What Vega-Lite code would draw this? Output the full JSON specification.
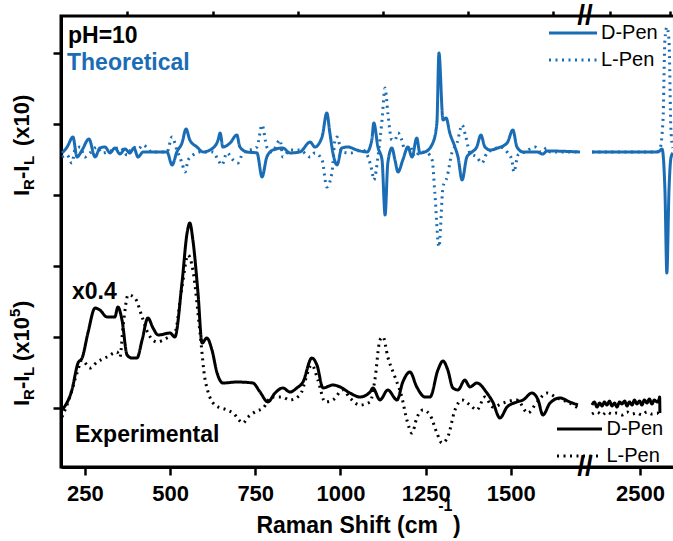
{
  "$schema": "https://vega.github.io/schema/vega-lite/v6.json",
  "width": 614,
  "height": 451,
  "autosize": {"type": "none"},
  "padding": {"left": 61, "top": 16, "right": 0, "bottom": 74},
  "background": "white",
  "config": {
    "view": {"stroke": "black", "strokeWidth": 3},
    "font": "Liberation Sans",
    "axis": {"grid": false, "domainColor": "black", "tickColor": "black", "labelColor": "black", "domainWidth": 3, "tickWidth": 2.5}
  },
  "datasets": {
    "theory": [
      {"x":183,"y":3.592,"e":"D-Pen","s":1},{"x":198,"y":3.676,"e":"D-Pen","s":1},{"x":215,"y":3.817,"e":"D-Pen","s":1},{"x":227,"y":3.535,"e":"D-Pen","s":1},{"x":242,"y":3.634,"e":"D-Pen","s":1},{"x":262,"y":3.789,"e":"D-Pen","s":1},{"x":280,"y":3.535,"e":"D-Pen","s":1},{"x":294,"y":3.662,"e":"D-Pen","s":1},{"x":309,"y":3.676,"e":"D-Pen","s":1},{"x":324,"y":3.592,"e":"D-Pen","s":1},{"x":338,"y":3.662,"e":"D-Pen","s":1},{"x":353,"y":3.577,"e":"D-Pen","s":1},{"x":368,"y":3.648,"e":"D-Pen","s":1},{"x":382,"y":3.592,"e":"D-Pen","s":1},{"x":394,"y":3.662,"e":"D-Pen","s":1},{"x":406,"y":3.535,"e":"D-Pen","s":1},{"x":421,"y":3.606,"e":"D-Pen","s":1},{"x":491,"y":3.606,"e":"D-Pen","s":1},{"x":506,"y":3.423,"e":"D-Pen","s":1},{"x":520,"y":3.606,"e":"D-Pen","s":1},{"x":535,"y":3.732,"e":"D-Pen","s":1},{"x":547,"y":3.93,"e":"D-Pen","s":1},{"x":558,"y":3.775,"e":"D-Pen","s":1},{"x":579,"y":3.676,"e":"D-Pen","s":1},{"x":597,"y":3.606,"e":"D-Pen","s":1},{"x":626,"y":3.662,"e":"D-Pen","s":1},{"x":641,"y":3.775,"e":"D-Pen","s":1},{"x":647,"y":3.873,"e":"D-Pen","s":1},{"x":655,"y":3.676,"e":"D-Pen","s":1},{"x":676,"y":3.732,"e":"D-Pen","s":1},{"x":696,"y":3.845,"e":"D-Pen","s":1},{"x":705,"y":3.676,"e":"D-Pen","s":1},{"x":726,"y":3.606,"e":"D-Pen","s":1},{"x":755,"y":3.592,"e":"D-Pen","s":1},{"x":770,"y":3.254,"e":"D-Pen","s":1},{"x":784,"y":3.535,"e":"D-Pen","s":1},{"x":802,"y":3.634,"e":"D-Pen","s":1},{"x":831,"y":3.662,"e":"D-Pen","s":1},{"x":852,"y":3.592,"e":"D-Pen","s":1},{"x":881,"y":3.606,"e":"D-Pen","s":1},{"x":911,"y":3.746,"e":"D-Pen","s":1},{"x":925,"y":3.676,"e":"D-Pen","s":1},{"x":946,"y":3.817,"e":"D-Pen","s":1},{"x":960,"y":4.155,"e":"D-Pen","s":1},{"x":969,"y":3.873,"e":"D-Pen","s":1},{"x":978,"y":3.592,"e":"D-Pen","s":1},{"x":990,"y":3.423,"e":"D-Pen","s":1},{"x":1004,"y":3.662,"e":"D-Pen","s":1},{"x":1022,"y":3.676,"e":"D-Pen","s":1},{"x":1048,"y":3.634,"e":"D-Pen","s":1},{"x":1078,"y":3.606,"e":"D-Pen","s":1},{"x":1092,"y":3.775,"e":"D-Pen","s":1},{"x":1098,"y":4.014,"e":"D-Pen","s":1},{"x":1110,"y":3.676,"e":"D-Pen","s":1},{"x":1122,"y":3.493,"e":"D-Pen","s":1},{"x":1131,"y":2.718,"e":"D-Pen","s":1},{"x":1139,"y":3.451,"e":"D-Pen","s":1},{"x":1151,"y":3.662,"e":"D-Pen","s":1},{"x":1160,"y":3.493,"e":"D-Pen","s":1},{"x":1169,"y":3.324,"e":"D-Pen","s":1},{"x":1183,"y":3.493,"e":"D-Pen","s":1},{"x":1198,"y":3.676,"e":"D-Pen","s":1},{"x":1210,"y":3.535,"e":"D-Pen","s":1},{"x":1224,"y":3.803,"e":"D-Pen","s":1},{"x":1233,"y":3.592,"e":"D-Pen","s":1},{"x":1248,"y":3.606,"e":"D-Pen","s":1},{"x":1271,"y":3.732,"e":"D-Pen","s":1},{"x":1283,"y":4.014,"e":"D-Pen","s":1},{"x":1289,"y":5.0,"e":"D-Pen","s":1},{"x":1301,"y":4.056,"e":"D-Pen","s":1},{"x":1310,"y":4.085,"e":"D-Pen","s":1},{"x":1321,"y":3.873,"e":"D-Pen","s":1},{"x":1336,"y":3.676,"e":"D-Pen","s":1},{"x":1345,"y":3.535,"e":"D-Pen","s":1},{"x":1357,"y":3.211,"e":"D-Pen","s":1},{"x":1371,"y":3.535,"e":"D-Pen","s":1},{"x":1386,"y":3.606,"e":"D-Pen","s":1},{"x":1400,"y":3.676,"e":"D-Pen","s":1},{"x":1412,"y":3.845,"e":"D-Pen","s":1},{"x":1424,"y":3.676,"e":"D-Pen","s":1},{"x":1439,"y":3.634,"e":"D-Pen","s":1},{"x":1462,"y":3.662,"e":"D-Pen","s":1},{"x":1489,"y":3.732,"e":"D-Pen","s":1},{"x":1506,"y":3.915,"e":"D-Pen","s":1},{"x":1518,"y":3.676,"e":"D-Pen","s":1},{"x":1536,"y":3.606,"e":"D-Pen","s":1},{"x":1577,"y":3.606,"e":"D-Pen","s":1},{"x":1594,"y":3.577,"e":"D-Pen","s":1},{"x":1606,"y":3.62,"e":"D-Pen","s":1},{"x":1703,"y":3.606,"e":"D-Pen","s":1},
      {"x":2300,"y":3.606,"e":"D-Pen","s":2},{"x":2575,"y":3.606,"e":"D-Pen","s":2},{"x":2592,"y":3.648,"e":"D-Pen","s":2},{"x":2604,"y":3.07,"e":"D-Pen","s":2},{"x":2612,"y":1.901,"e":"D-Pen","s":2},{"x":2621,"y":3.07,"e":"D-Pen","s":2},{"x":2629,"y":3.521,"e":"D-Pen","s":2},{"x":2637,"y":3.592,"e":"D-Pen","s":2},
      {"x":183,"y":3.535,"e":"L-Pen","s":1},{"x":198,"y":3.563,"e":"L-Pen","s":1},{"x":212,"y":3.451,"e":"L-Pen","s":1},{"x":221,"y":3.634,"e":"L-Pen","s":1},{"x":236,"y":3.676,"e":"L-Pen","s":1},{"x":250,"y":3.535,"e":"L-Pen","s":1},{"x":265,"y":3.592,"e":"L-Pen","s":1},{"x":286,"y":3.676,"e":"L-Pen","s":1},{"x":300,"y":3.592,"e":"L-Pen","s":1},{"x":333,"y":3.634,"e":"L-Pen","s":1},{"x":353,"y":3.676,"e":"L-Pen","s":1},{"x":374,"y":3.563,"e":"L-Pen","s":1},{"x":391,"y":3.676,"e":"L-Pen","s":1},{"x":406,"y":3.648,"e":"L-Pen","s":1},{"x":421,"y":3.704,"e":"L-Pen","s":1},{"x":447,"y":3.606,"e":"L-Pen","s":1},{"x":491,"y":3.606,"e":"L-Pen","s":1},{"x":506,"y":3.817,"e":"L-Pen","s":1},{"x":520,"y":3.634,"e":"L-Pen","s":1},{"x":535,"y":3.451,"e":"L-Pen","s":1},{"x":544,"y":3.324,"e":"L-Pen","s":1},{"x":553,"y":3.493,"e":"L-Pen","s":1},{"x":567,"y":3.563,"e":"L-Pen","s":1},{"x":588,"y":3.606,"e":"L-Pen","s":1},{"x":626,"y":3.606,"e":"L-Pen","s":1},{"x":641,"y":3.493,"e":"L-Pen","s":1},{"x":652,"y":3.423,"e":"L-Pen","s":1},{"x":667,"y":3.592,"e":"L-Pen","s":1},{"x":685,"y":3.493,"e":"L-Pen","s":1},{"x":699,"y":3.451,"e":"L-Pen","s":1},{"x":714,"y":3.592,"e":"L-Pen","s":1},{"x":755,"y":3.676,"e":"L-Pen","s":1},{"x":770,"y":3.986,"e":"L-Pen","s":1},{"x":784,"y":3.676,"e":"L-Pen","s":1},{"x":799,"y":3.606,"e":"L-Pen","s":1},{"x":823,"y":3.775,"e":"L-Pen","s":1},{"x":831,"y":3.535,"e":"L-Pen","s":1},{"x":852,"y":3.634,"e":"L-Pen","s":1},{"x":881,"y":3.634,"e":"L-Pen","s":1},{"x":911,"y":3.535,"e":"L-Pen","s":1},{"x":925,"y":3.592,"e":"L-Pen","s":1},{"x":946,"y":3.493,"e":"L-Pen","s":1},{"x":960,"y":3.113,"e":"L-Pen","s":1},{"x":975,"y":3.31,"e":"L-Pen","s":1},{"x":984,"y":3.775,"e":"L-Pen","s":1},{"x":990,"y":3.817,"e":"L-Pen","s":1},{"x":1004,"y":3.606,"e":"L-Pen","s":1},{"x":1028,"y":3.592,"e":"L-Pen","s":1},{"x":1066,"y":3.634,"e":"L-Pen","s":1},{"x":1081,"y":3.535,"e":"L-Pen","s":1},{"x":1092,"y":3.352,"e":"L-Pen","s":1},{"x":1098,"y":3.211,"e":"L-Pen","s":1},{"x":1110,"y":3.535,"e":"L-Pen","s":1},{"x":1122,"y":4.056,"e":"L-Pen","s":1},{"x":1131,"y":4.507,"e":"L-Pen","s":1},{"x":1139,"y":4.155,"e":"L-Pen","s":1},{"x":1151,"y":3.775,"e":"L-Pen","s":1},{"x":1160,"y":3.775,"e":"L-Pen","s":1},{"x":1169,"y":3.873,"e":"L-Pen","s":1},{"x":1180,"y":3.775,"e":"L-Pen","s":1},{"x":1189,"y":3.634,"e":"L-Pen","s":1},{"x":1204,"y":3.676,"e":"L-Pen","s":1},{"x":1219,"y":3.535,"e":"L-Pen","s":1},{"x":1233,"y":3.606,"e":"L-Pen","s":1},{"x":1254,"y":3.592,"e":"L-Pen","s":1},{"x":1269,"y":3.493,"e":"L-Pen","s":1},{"x":1277,"y":3.028,"e":"L-Pen","s":1},{"x":1289,"y":2.268,"e":"L-Pen","s":1},{"x":1301,"y":3.113,"e":"L-Pen","s":1},{"x":1313,"y":3.254,"e":"L-Pen","s":1},{"x":1327,"y":3.592,"e":"L-Pen","s":1},{"x":1342,"y":3.732,"e":"L-Pen","s":1},{"x":1357,"y":3.986,"e":"L-Pen","s":1},{"x":1368,"y":3.817,"e":"L-Pen","s":1},{"x":1380,"y":3.592,"e":"L-Pen","s":1},{"x":1400,"y":3.535,"e":"L-Pen","s":1},{"x":1415,"y":3.451,"e":"L-Pen","s":1},{"x":1430,"y":3.592,"e":"L-Pen","s":1},{"x":1447,"y":3.634,"e":"L-Pen","s":1},{"x":1468,"y":3.676,"e":"L-Pen","s":1},{"x":1489,"y":3.606,"e":"L-Pen","s":1},{"x":1503,"y":3.493,"e":"L-Pen","s":1},{"x":1509,"y":3.324,"e":"L-Pen","s":1},{"x":1521,"y":3.563,"e":"L-Pen","s":1},{"x":1541,"y":3.606,"e":"L-Pen","s":1},{"x":1571,"y":3.676,"e":"L-Pen","s":1},{"x":1588,"y":3.606,"e":"L-Pen","s":1},{"x":1606,"y":3.662,"e":"L-Pen","s":1},{"x":1615,"y":3.606,"e":"L-Pen","s":1},{"x":1703,"y":3.606,"e":"L-Pen","s":1},
      {"x":2300,"y":3.606,"e":"L-Pen","s":2},{"x":2567,"y":3.606,"e":"L-Pen","s":2},{"x":2583,"y":3.648,"e":"L-Pen","s":2},{"x":2596,"y":4.056,"e":"L-Pen","s":2},{"x":2604,"y":5.183,"e":"L-Pen","s":2},{"x":2612,"y":5.366,"e":"L-Pen","s":2},{"x":2621,"y":5.183,"e":"L-Pen","s":2},{"x":2629,"y":3.915,"e":"L-Pen","s":2},{"x":2637,"y":3.662,"e":"L-Pen","s":2}
    ],
    "experiment": [
      {"x":183,"y":-0.028,"e":"D-Pen","s":1},{"x":212,"y":0.254,"e":"D-Pen","s":1},{"x":230,"y":0.634,"e":"D-Pen","s":1},{"x":242,"y":0.704,"e":"D-Pen","s":1},{"x":259,"y":1.056,"e":"D-Pen","s":1},{"x":280,"y":1.408,"e":"D-Pen","s":1},{"x":294,"y":1.38,"e":"D-Pen","s":1},{"x":315,"y":1.282,"e":"D-Pen","s":1},{"x":338,"y":1.282,"e":"D-Pen","s":1},{"x":347,"y":1.423,"e":"D-Pen","s":1},{"x":359,"y":1.239,"e":"D-Pen","s":1},{"x":374,"y":0.746,"e":"D-Pen","s":1},{"x":388,"y":0.704,"e":"D-Pen","s":1},{"x":403,"y":0.704,"e":"D-Pen","s":1},{"x":418,"y":0.958,"e":"D-Pen","s":1},{"x":435,"y":1.268,"e":"D-Pen","s":1},{"x":450,"y":1.127,"e":"D-Pen","s":1},{"x":465,"y":1.028,"e":"D-Pen","s":1},{"x":500,"y":1.056,"e":"D-Pen","s":1},{"x":514,"y":1.0,"e":"D-Pen","s":1},{"x":535,"y":1.761,"e":"D-Pen","s":1},{"x":550,"y":2.465,"e":"D-Pen","s":1},{"x":558,"y":2.606,"e":"D-Pen","s":1},{"x":567,"y":2.366,"e":"D-Pen","s":1},{"x":582,"y":1.62,"e":"D-Pen","s":1},{"x":594,"y":0.915,"e":"D-Pen","s":1},{"x":608,"y":0.986,"e":"D-Pen","s":1},{"x":623,"y":0.817,"e":"D-Pen","s":1},{"x":638,"y":0.493,"e":"D-Pen","s":1},{"x":655,"y":0.352,"e":"D-Pen","s":1},{"x":696,"y":0.366,"e":"D-Pen","s":1},{"x":743,"y":0.352,"e":"D-Pen","s":1},{"x":764,"y":0.225,"e":"D-Pen","s":1},{"x":787,"y":0.085,"e":"D-Pen","s":1},{"x":808,"y":0.211,"e":"D-Pen","s":1},{"x":831,"y":0.282,"e":"D-Pen","s":1},{"x":852,"y":0.225,"e":"D-Pen","s":1},{"x":872,"y":0.282,"e":"D-Pen","s":1},{"x":890,"y":0.366,"e":"D-Pen","s":1},{"x":916,"y":0.704,"e":"D-Pen","s":1},{"x":931,"y":0.606,"e":"D-Pen","s":1},{"x":949,"y":0.282,"e":"D-Pen","s":1},{"x":978,"y":0.324,"e":"D-Pen","s":1},{"x":999,"y":0.296,"e":"D-Pen","s":1},{"x":1028,"y":0.211,"e":"D-Pen","s":1},{"x":1057,"y":0.155,"e":"D-Pen","s":1},{"x":1087,"y":0.225,"e":"D-Pen","s":1},{"x":1095,"y":0.282,"e":"D-Pen","s":1},{"x":1116,"y":0.113,"e":"D-Pen","s":1},{"x":1139,"y":0.254,"e":"D-Pen","s":1},{"x":1166,"y":0.113,"e":"D-Pen","s":1},{"x":1183,"y":0.366,"e":"D-Pen","s":1},{"x":1204,"y":0.507,"e":"D-Pen","s":1},{"x":1224,"y":0.296,"e":"D-Pen","s":1},{"x":1248,"y":0.155,"e":"D-Pen","s":1},{"x":1263,"y":0.155,"e":"D-Pen","s":1},{"x":1286,"y":0.535,"e":"D-Pen","s":1},{"x":1301,"y":0.662,"e":"D-Pen","s":1},{"x":1315,"y":0.535,"e":"D-Pen","s":1},{"x":1330,"y":0.282,"e":"D-Pen","s":1},{"x":1345,"y":0.254,"e":"D-Pen","s":1},{"x":1365,"y":0.394,"e":"D-Pen","s":1},{"x":1380,"y":0.296,"e":"D-Pen","s":1},{"x":1400,"y":0.352,"e":"D-Pen","s":1},{"x":1430,"y":0.211,"e":"D-Pen","s":1},{"x":1447,"y":0.085,"e":"D-Pen","s":1},{"x":1468,"y":-0.141,"e":"D-Pen","s":1},{"x":1489,"y":0.014,"e":"D-Pen","s":1},{"x":1518,"y":0.085,"e":"D-Pen","s":1},{"x":1536,"y":0.113,"e":"D-Pen","s":1},{"x":1562,"y":0.211,"e":"D-Pen","s":1},{"x":1580,"y":0.113,"e":"D-Pen","s":1},{"x":1594,"y":-0.099,"e":"D-Pen","s":1},{"x":1615,"y":0.07,"e":"D-Pen","s":1},{"x":1644,"y":0.141,"e":"D-Pen","s":1},{"x":1673,"y":0.085,"e":"D-Pen","s":1},{"x":1697,"y":0.042,"e":"D-Pen","s":1},
      {"x":2300,"y":0.042,"e":"D-Pen","s":2},{"x":2310,"y":0.085,"e":"D-Pen","s":2},{"x":2321,"y":0.014,"e":"D-Pen","s":2},{"x":2332,"y":0.07,"e":"D-Pen","s":2},{"x":2342,"y":0.028,"e":"D-Pen","s":2},{"x":2352,"y":0.085,"e":"D-Pen","s":2},{"x":2362,"y":0.042,"e":"D-Pen","s":2},{"x":2373,"y":0.099,"e":"D-Pen","s":2},{"x":2383,"y":0.028,"e":"D-Pen","s":2},{"x":2394,"y":0.07,"e":"D-Pen","s":2},{"x":2404,"y":0.014,"e":"D-Pen","s":2},{"x":2415,"y":0.085,"e":"D-Pen","s":2},{"x":2425,"y":0.056,"e":"D-Pen","s":2},{"x":2436,"y":0.099,"e":"D-Pen","s":2},{"x":2446,"y":0.028,"e":"D-Pen","s":2},{"x":2456,"y":0.085,"e":"D-Pen","s":2},{"x":2467,"y":0.042,"e":"D-Pen","s":2},{"x":2477,"y":0.113,"e":"D-Pen","s":2},{"x":2487,"y":0.056,"e":"D-Pen","s":2},{"x":2498,"y":0.099,"e":"D-Pen","s":2},{"x":2508,"y":0.042,"e":"D-Pen","s":2},{"x":2518,"y":0.113,"e":"D-Pen","s":2},{"x":2529,"y":0.07,"e":"D-Pen","s":2},{"x":2539,"y":0.127,"e":"D-Pen","s":2},{"x":2550,"y":0.056,"e":"D-Pen","s":2},{"x":2560,"y":0.113,"e":"D-Pen","s":2},{"x":2571,"y":0.085,"e":"D-Pen","s":2},{"x":2580,"y":0.127,"e":"D-Pen","s":2},{"x":2582,"y":0.155,"e":"D-Pen","s":2},{"x":2583,"y":-0.07,"e":"D-Pen","s":2},
      {"x":183,"y":-0.127,"e":"L-Pen","s":1},{"x":206,"y":0.155,"e":"L-Pen","s":1},{"x":227,"y":0.493,"e":"L-Pen","s":1},{"x":242,"y":0.676,"e":"L-Pen","s":1},{"x":265,"y":0.563,"e":"L-Pen","s":1},{"x":286,"y":0.648,"e":"L-Pen","s":1},{"x":315,"y":0.718,"e":"L-Pen","s":1},{"x":344,"y":0.789,"e":"L-Pen","s":1},{"x":353,"y":0.718,"e":"L-Pen","s":1},{"x":362,"y":1.141,"e":"L-Pen","s":1},{"x":377,"y":1.592,"e":"L-Pen","s":1},{"x":397,"y":1.549,"e":"L-Pen","s":1},{"x":418,"y":1.282,"e":"L-Pen","s":1},{"x":435,"y":1.056,"e":"L-Pen","s":1},{"x":462,"y":0.93,"e":"L-Pen","s":1},{"x":491,"y":0.986,"e":"L-Pen","s":1},{"x":514,"y":1.056,"e":"L-Pen","s":1},{"x":535,"y":1.704,"e":"L-Pen","s":1},{"x":553,"y":2.155,"e":"L-Pen","s":1},{"x":567,"y":1.944,"e":"L-Pen","s":1},{"x":588,"y":1.056,"e":"L-Pen","s":1},{"x":603,"y":0.394,"e":"L-Pen","s":1},{"x":632,"y":0.042,"e":"L-Pen","s":1},{"x":667,"y":-0.028,"e":"L-Pen","s":1},{"x":685,"y":-0.07,"e":"L-Pen","s":1},{"x":714,"y":-0.211,"e":"L-Pen","s":1},{"x":729,"y":-0.127,"e":"L-Pen","s":1},{"x":749,"y":-0.056,"e":"L-Pen","s":1},{"x":773,"y":0.0,"e":"L-Pen","s":1},{"x":799,"y":0.155,"e":"L-Pen","s":1},{"x":828,"y":0.155,"e":"L-Pen","s":1},{"x":852,"y":0.113,"e":"L-Pen","s":1},{"x":881,"y":0.183,"e":"L-Pen","s":1},{"x":916,"y":0.606,"e":"L-Pen","s":1},{"x":934,"y":0.394,"e":"L-Pen","s":1},{"x":955,"y":0.085,"e":"L-Pen","s":1},{"x":978,"y":0.113,"e":"L-Pen","s":1},{"x":1007,"y":0.254,"e":"L-Pen","s":1},{"x":1028,"y":0.141,"e":"L-Pen","s":1},{"x":1057,"y":0.042,"e":"L-Pen","s":1},{"x":1087,"y":0.085,"e":"L-Pen","s":1},{"x":1101,"y":0.394,"e":"L-Pen","s":1},{"x":1116,"y":0.958,"e":"L-Pen","s":1},{"x":1125,"y":1.0,"e":"L-Pen","s":1},{"x":1139,"y":0.718,"e":"L-Pen","s":1},{"x":1160,"y":0.437,"e":"L-Pen","s":1},{"x":1180,"y":0.155,"e":"L-Pen","s":1},{"x":1195,"y":-0.169,"e":"L-Pen","s":1},{"x":1210,"y":-0.352,"e":"L-Pen","s":1},{"x":1224,"y":-0.141,"e":"L-Pen","s":1},{"x":1242,"y":-0.028,"e":"L-Pen","s":1},{"x":1263,"y":-0.099,"e":"L-Pen","s":1},{"x":1283,"y":-0.352,"e":"L-Pen","s":1},{"x":1298,"y":-0.493,"e":"L-Pen","s":1},{"x":1315,"y":-0.408,"e":"L-Pen","s":1},{"x":1336,"y":-0.028,"e":"L-Pen","s":1},{"x":1357,"y":0.113,"e":"L-Pen","s":1},{"x":1380,"y":0.042,"e":"L-Pen","s":1},{"x":1400,"y":-0.028,"e":"L-Pen","s":1},{"x":1424,"y":0.155,"e":"L-Pen","s":1},{"x":1447,"y":0.014,"e":"L-Pen","s":1},{"x":1477,"y":0.07,"e":"L-Pen","s":1},{"x":1518,"y":0.113,"e":"L-Pen","s":1},{"x":1550,"y":-0.07,"e":"L-Pen","s":1},{"x":1577,"y":0.085,"e":"L-Pen","s":1},{"x":1606,"y":0.211,"e":"L-Pen","s":1},{"x":1635,"y":0.141,"e":"L-Pen","s":1},{"x":1673,"y":0.07,"e":"L-Pen","s":1},{"x":1697,"y":0.0,"e":"L-Pen","s":1},
      {"x":2300,"y":-0.085,"e":"L-Pen","s":2},{"x":2321,"y":-0.056,"e":"L-Pen","s":2},{"x":2342,"y":-0.099,"e":"L-Pen","s":2},{"x":2362,"y":-0.056,"e":"L-Pen","s":2},{"x":2383,"y":-0.085,"e":"L-Pen","s":2},{"x":2404,"y":-0.07,"e":"L-Pen","s":2},{"x":2425,"y":-0.099,"e":"L-Pen","s":2},{"x":2446,"y":-0.056,"e":"L-Pen","s":2},{"x":2467,"y":-0.085,"e":"L-Pen","s":2},{"x":2487,"y":-0.07,"e":"L-Pen","s":2},{"x":2508,"y":-0.099,"e":"L-Pen","s":2},{"x":2529,"y":-0.056,"e":"L-Pen","s":2},{"x":2550,"y":-0.085,"e":"L-Pen","s":2},{"x":2571,"y":-0.07,"e":"L-Pen","s":2},{"x":2583,"y":-0.099,"e":"L-Pen","s":2}
    ],
    "notesBlack": [
      {"t":"pH=10","x":200.5,"y":5.141},
      {"t":"x0.4","x":212,"y":1.535},
      {"t":"Experimental","x":221,"y":-0.479}
    ],
    "notesBlue": [
      {"t":"Theoretical","x":197.6,"y":4.761}
    ],
    "yTitleMain": [
      {"t":"I","x":86,"y":2.986},{"t":"-I","x":86,"y":3.225},{"t":"(x10)","x":86,"y":3.69},
      {"t":"I","x":86,"y":0.028},{"t":"-I","x":86,"y":0.268},{"t":"(x10","x":86,"y":0.662},{"t":")","x":86,"y":1.408}
    ],
    "yTitleSub": [
      {"t":"R","x":86,"y":3.07},{"t":"L","x":86,"y":3.423},
      {"t":"R","x":86,"y":0.113},{"t":"L","x":86,"y":0.451}
    ],
    "yTitleSup": [
      {"t":"5","x":86,"y":1.282}
    ],
    "xTitleLead": [
      {"t":"Raman Shift (cm","x":1286,"y":-1.761}
    ],
    "xTitleTail": [
      {"t":")","x":1330,"y":-1.761}
    ],
    "xTitleSup": [
      {"t":"-1","x":1287,"y":-1.45}
    ],
    "breaks": [
      {"t":"//","x":1870,"y":5.521},{"t":"//","x":1870,"y":-0.831}
    ]
  },
  "resolve": {
    "scale": {"strokeDash": "independent"},
    "legend": {"strokeDash": "independent"},
    "axis": {"x": "independent", "y": "independent"}
  },
  "layer": [
    {
      "data": {"name": "theory"},
      "mark": {"type": "line", "color": "#1a6db5", "strokeWidth": 3, "interpolate": "monotone"},
      "encoding": {
        "x": {"field": "x", "type": "quantitative",
          "scale": {"type": "linear", "domain": [180, 1710, 2300, 2646], "range": [0, 521.4, 531, 614], "zero": false, "nice": false},
          "axis": {"values": [250, 500, 750, 1000, 1250, 1500, 2500], "format": "d", "title": null, "labelFont": "Liberation Sans", "labelFontWeight": "bold", "labelFontSize": 22, "labelPadding": 8, "tickSize": 8, "labelFlush": false, "labelOverlap": false}},
        "y": {"field": "y", "type": "quantitative",
          "scale": {"domain": [-0.831, 5.521], "zero": false, "nice": false},
          "axis": {"values": [0, 1, 2, 3, 4, 5], "labels": false, "title": null, "tickSize": 8}},
        "strokeDash": {"field": "e", "type": "nominal",
          "scale": {"domain": ["D-Pen", "L-Pen"], "range": [[1, 0], [2, 4.5]]},
          "legend": {"title": null, "orient": "none", "legendX": 502, "legendY": 7, "symbolType": "M-4,0H4", "symbolSize": 144, "symbolStrokeWidth": 3, "symbolStrokeColor": "#1a6db5", "labelFont": "Liberation Sans", "labelFontSize": 20, "labelColor": "black", "labelOffset": 18, "rowPadding": 7, "padding": 0}},
        "detail": {"field": "s", "type": "nominal"}
      }
    },
    {
      "data": {"name": "experiment"},
      "mark": {"type": "line", "color": "black", "strokeWidth": 3, "interpolate": "monotone"},
      "encoding": {
        "x": {"field": "x", "type": "quantitative",
          "axis": {"values": [375, 625, 875, 1125, 1375, 1625, 2375, 2625], "labels": false, "domain": false, "title": null, "tickSize": 5}},
        "y": {"field": "y", "type": "quantitative",
          "axis": {"values": [-0.5, 0.5, 1.5, 2.5, 3.5, 4.5], "labels": false, "domain": false, "title": null, "tickSize": 5}},
        "strokeDash": {"field": "e", "type": "nominal",
          "scale": {"domain": ["D-Pen", "L-Pen"], "range": [[1, 0], [2, 4.5]]},
          "legend": {"title": null, "orient": "none", "legendX": 508.5, "legendY": 403, "symbolType": "M-3.75,0H3.75", "symbolSize": 144, "symbolStrokeWidth": 3, "symbolStrokeColor": "black", "labelFont": "Liberation Sans", "labelFontSize": 20, "labelColor": "black", "labelOffset": 17, "rowPadding": 7, "padding": 0}},
        "detail": {"field": "s", "type": "nominal"}
      }
    },
    {
      "data": {"name": "notesBlack"},
      "mark": {"type": "text", "align": "left", "baseline": "alphabetic", "font": "Liberation Sans", "fontWeight": "bold", "fontSize": 23, "color": "black"},
      "encoding": {
        "x": {"field": "x", "type": "quantitative", "axis": null},
        "y": {"field": "y", "type": "quantitative", "axis": null},
        "text": {"field": "t"}
      }
    },
    {
      "data": {"name": "notesBlue"},
      "mark": {"type": "text", "align": "left", "baseline": "alphabetic", "font": "Liberation Sans", "fontWeight": "bold", "fontSize": 23, "color": "#1a6db5"},
      "encoding": {
        "x": {"field": "x", "type": "quantitative", "axis": null},
        "y": {"field": "y", "type": "quantitative", "axis": null},
        "text": {"field": "t"}
      }
    },
    {
      "data": {"name": "yTitleMain"},
      "mark": {"type": "text", "angle": 270, "align": "left", "baseline": "alphabetic", "font": "Liberation Sans", "fontWeight": "bold", "fontSize": 22, "color": "black"},
      "encoding": {
        "x": {"field": "x", "type": "quantitative", "axis": null},
        "y": {"field": "y", "type": "quantitative", "axis": null},
        "text": {"field": "t"}
      }
    },
    {
      "data": {"name": "yTitleSub"},
      "mark": {"type": "text", "angle": 270, "align": "left", "baseline": "alphabetic", "dy": 5, "font": "Liberation Sans", "fontWeight": "bold", "fontSize": 15, "color": "black"},
      "encoding": {
        "x": {"field": "x", "type": "quantitative", "axis": null},
        "y": {"field": "y", "type": "quantitative", "axis": null},
        "text": {"field": "t"}
      }
    },
    {
      "data": {"name": "yTitleSup"},
      "mark": {"type": "text", "angle": 270, "align": "left", "baseline": "alphabetic", "dy": -9, "font": "Liberation Sans", "fontWeight": "bold", "fontSize": 15, "color": "black"},
      "encoding": {
        "x": {"field": "x", "type": "quantitative", "axis": null},
        "y": {"field": "y", "type": "quantitative", "axis": null},
        "text": {"field": "t"}
      }
    },
    {
      "data": {"name": "xTitleLead"},
      "mark": {"type": "text", "align": "right", "baseline": "alphabetic", "font": "Liberation Sans", "fontWeight": "bold", "fontSize": 23, "color": "black"},
      "encoding": {
        "x": {"field": "x", "type": "quantitative", "axis": null},
        "y": {"field": "y", "type": "quantitative", "axis": null},
        "text": {"field": "t"}
      }
    },
    {
      "data": {"name": "xTitleTail"},
      "mark": {"type": "text", "align": "left", "baseline": "alphabetic", "font": "Liberation Sans", "fontWeight": "bold", "fontSize": 23, "color": "black"},
      "encoding": {
        "x": {"field": "x", "type": "quantitative", "axis": null},
        "y": {"field": "y", "type": "quantitative", "axis": null},
        "text": {"field": "t"}
      }
    },
    {
      "data": {"name": "xTitleSup"},
      "mark": {"type": "text", "align": "left", "baseline": "alphabetic", "font": "Liberation Sans", "fontWeight": "bold", "fontSize": 16, "color": "black"},
      "encoding": {
        "x": {"field": "x", "type": "quantitative", "axis": null},
        "y": {"field": "y", "type": "quantitative", "axis": null},
        "text": {"field": "t"}
      }
    },
    {
      "data": {"name": "breaks"},
      "mark": {"type": "text", "align": "center", "baseline": "middle", "font": "Liberation Sans", "fontWeight": "bold", "fontSize": 28, "color": "black"},
      "encoding": {
        "x": {"field": "x", "type": "quantitative", "axis": null},
        "y": {"field": "y", "type": "quantitative", "axis": null},
        "text": {"field": "t"}
      }
    }
  ]
}
